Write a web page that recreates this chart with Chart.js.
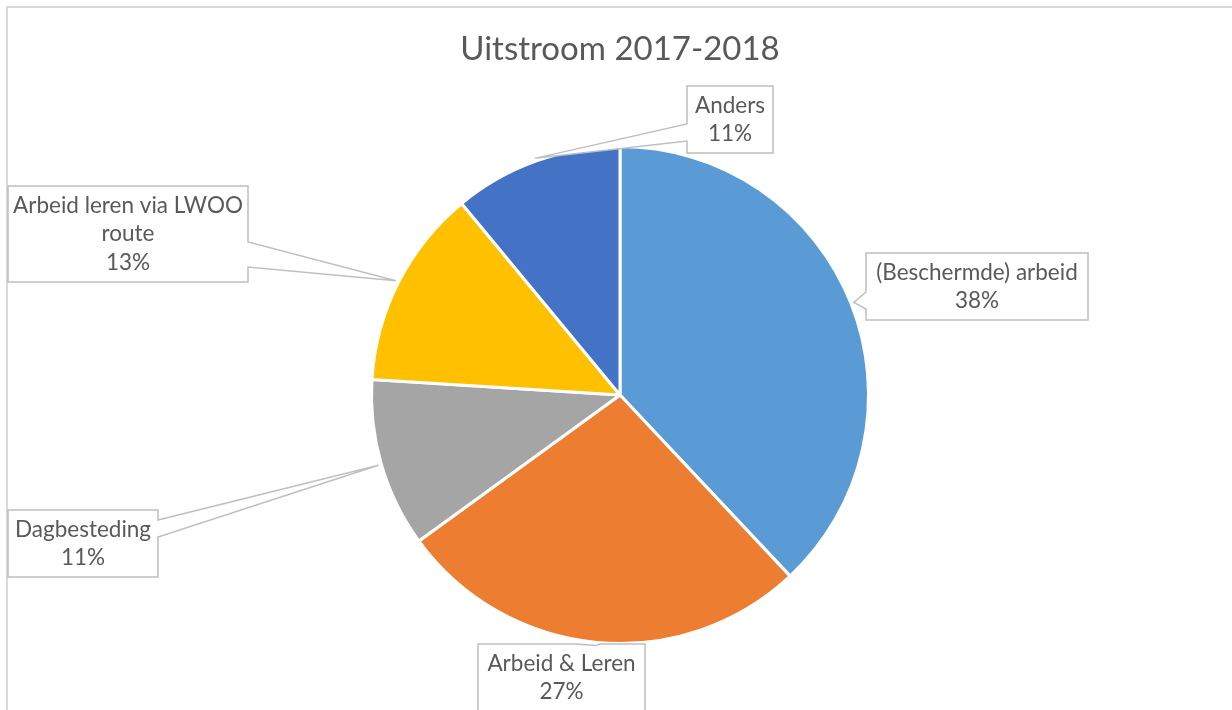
<!DOCTYPE html>
<html>
<head>
<meta charset="utf-8">
<script src="https://cdn.jsdelivr.net/npm/chart.js@4"></script>
<style>
  html, body { margin: 0; padding: 0; background: #fff; }
  #wrap { position: relative; width: 1232px; height: 710px; overflow: hidden; }
  #frame { position: absolute; left: 6px; top: 6px; width: 1300px; height: 800px;
           border-left: 2px solid #d9d9d9; border-top: 2px solid #d9d9d9; }
  canvas { position: absolute; left: 0; top: 0; }
</style>
</head>
<body>
<div id="wrap">
  <div id="frame"></div>
  <canvas id="pie" width="1232" height="710"></canvas>
</div>
<script>
// Uitstroom 2017-2018 (percentages)
const categories = ['(Beschermde) arbeid', 'Arbeid & Leren', 'Dagbesteding', 'Arbeid leren via LWOO route', 'Anders'];
const percentages = [38, 27, 11, 13, 11];
const sliceColors = ['#5b9bd5', '#ed7d31', '#a5a5a5', '#ffc000', '#4472c4'];

// Plaats van de labelkaders (px) en de voet van de aanwijzer op de zijde van het kader
const calloutBoxes = [
    { x: 866, y: 253, w: 222, h: 67, side: 'left', base: [39, 56] },
    { x: 478, y: 644, w: 167, h: 80, side: 'top', base: [97, 122] },
    { x: 8, y: 510, w: 150, h: 67, side: 'right', base: [10, 27] },
    { x: 8, y: 186, w: 240, h: 96, side: 'right', base: [56, 81] },
    { x: 687, y: 86, w: 86, h: 67, side: 'left', base: [38, 55] }
];

const FONT = '22.5px Lato, "Open Sans", sans-serif';

function wrapText(c, text, maxW) {
    const words = text.split(' ');
    const lines = [];
    let line = '';
    words.forEach((w) => {
        const t = line ? line + ' ' + w : w;
        if (line && c.measureText(t).width > maxW) { lines.push(line); line = w; }
        else line = t;
    });
    if (line) lines.push(line);
    return lines;
}

// Plugin: kaders met aanwijzer naar het midden van elke taartpunt
const callouts = {
    id: 'callouts',
    afterDatasetsDraw(chart) {
        const c = chart.ctx;
        const meta = chart.getDatasetMeta(0);
        meta.data.forEach((arc, i) => {
            const b = calloutBoxes[i];
            if (!b) return;
            const mid = (arc.startAngle + arc.endAngle) / 2;
            const r = arc.outerRadius + 3;
            const tx = arc.x + Math.cos(mid) * r;
            const ty = arc.y + Math.sin(mid) * r;
            const x0 = b.x, y0 = b.y, x1 = b.x + b.w, y1 = b.y + b.h;
            c.save();
            c.beginPath();
            c.moveTo(x0, y0);
            if (b.side === 'top') {
                c.lineTo(x0 + b.base[0], y0); c.lineTo(tx, ty); c.lineTo(x0 + b.base[1], y0);
            }
            c.lineTo(x1, y0);
            if (b.side === 'right') {
                c.lineTo(x1, y0 + b.base[0]); c.lineTo(tx, ty); c.lineTo(x1, y0 + b.base[1]);
            }
            c.lineTo(x1, y1);
            c.lineTo(x0, y1);
            if (b.side === 'left') {
                c.lineTo(x0, y0 + b.base[1]); c.lineTo(tx, ty); c.lineTo(x0, y0 + b.base[0]);
            }
            c.closePath();
            c.fillStyle = '#ffffff';
            c.fill();
            c.lineWidth = 1.5;
            c.strokeStyle = '#bfbfbf';
            c.stroke();

            c.font = FONT;
            c.fillStyle = '#595959';
            c.textAlign = 'center';
            c.textBaseline = 'middle';
            const lines = wrapText(c, chart.data.labels[i], b.w - 8);
            lines.push(percentages[i] + '%');
            const lh = 28.5;
            const startY = b.y + 19.5;
            lines.forEach((ln, k) => c.fillText(ln, b.x + b.w / 2, startY + k * lh));
            c.restore();
        });
    }
};

new Chart(document.getElementById('pie'), {
    type: 'pie',
    data: {
        labels: categories,
        datasets: [{
            data: percentages,
            backgroundColor: sliceColors,
            borderColor: '#ffffff',
            borderWidth: 3
        }]
    },
    options: {
        responsive: false,
        animation: false,
        layout: { padding: { left: 8, right: 0, top: 0, bottom: 65 } },
        plugins: {
            legend: { display: false },
            tooltip: { enabled: false },
            title: {
                display: true,
                text: 'Uitstroom 2017-2018',
                color: '#595959',
                font: { family: 'Lato, "Open Sans", sans-serif', size: 33, weight: 'normal', lineHeight: 1.2 },
                padding: { top: 30, bottom: 75.4 }
            }
        }
    },
    plugins: [callouts]
});
</script>
</body>
</html>
